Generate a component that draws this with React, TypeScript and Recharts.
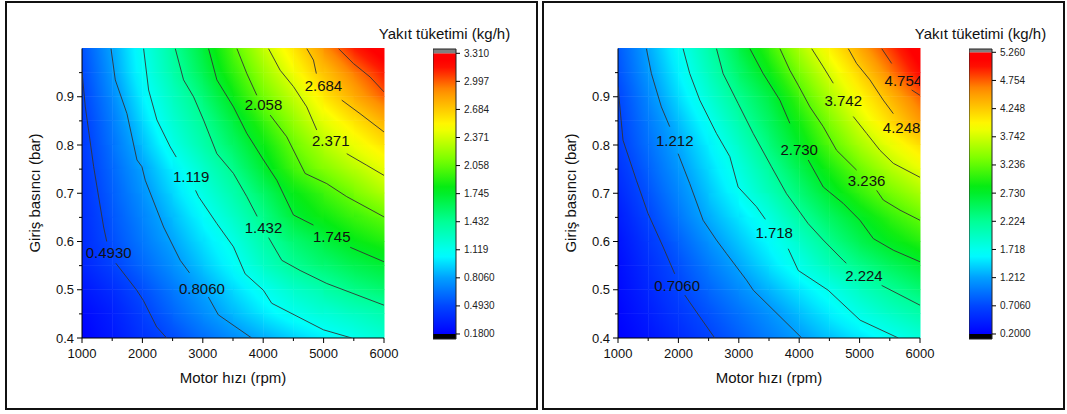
import React from "react";
import { ScatterChart, Scatter, XAxis, YAxis, ReferenceArea } from "recharts";

// grid nodes of the measured map
const rpmNodes = [1000, 1500, 2000, 2500, 3000, 3500, 4000, 4500, 5000, 5500, 6000];
const pressureNodes = [0.4, 0.45, 0.5, 0.55, 0.6, 0.65, 0.7, 0.75, 0.8, 0.85, 0.9, 0.95, 1.0];

const rpmTicks = [1000, 1500, 2000, 2500, 3000, 3500, 4000, 4500, 5000, 5500, 6000];
const pressureTicks = [0.4, 0.45, 0.5, 0.55, 0.6, 0.65, 0.7, 0.75, 0.8, 0.85, 0.9, 0.95];

// fuel consumption (kg/h), one row per pressure node (0.40 bar at the bottom)
const leftGrid = [
  [0.18, 0.29, 0.40, 0.51, 0.63, 0.74, 0.84, 0.93, 1.03, 1.12, 1.21],
  [0.22, 0.31, 0.46, 0.60, 0.74, 0.87, 1.00, 1.12, 1.20, 1.27, 1.35],
  [0.28, 0.38, 0.52, 0.67, 0.81, 0.96, 1.11, 1.24, 1.36, 1.48, 1.54],
  [0.34, 0.47, 0.61, 0.75, 0.91, 1.07, 1.26, 1.44, 1.54, 1.63, 1.72],
  [0.37, 0.52, 0.67, 0.82, 0.98, 1.14, 1.37, 1.53, 1.67, 1.81, 1.89],
  [0.38, 0.55, 0.71, 0.88, 1.06, 1.26, 1.46, 1.71, 1.84, 1.95, 2.06],
  [0.40, 0.58, 0.76, 0.95, 1.16, 1.35, 1.58, 1.80, 1.96, 2.12, 2.28],
  [0.42, 0.61, 0.81, 1.02, 1.24, 1.46, 1.72, 1.98, 2.15, 2.29, 2.43],
  [0.43, 0.65, 0.88, 1.14, 1.36, 1.58, 1.82, 2.08, 2.29, 2.45, 2.59],
  [0.45, 0.68, 0.96, 1.22, 1.43, 1.68, 1.95, 2.21, 2.43, 2.59, 2.78],
  [0.47, 0.73, 1.03, 1.28, 1.52, 1.81, 2.11, 2.32, 2.57, 2.80, 2.99],
  [0.49, 0.79, 1.09, 1.36, 1.63, 1.93, 2.21, 2.47, 2.72, 2.92, 3.15],
  [0.53, 0.82, 1.11, 1.41, 1.69, 2.02, 2.33, 2.58, 2.86, 3.15, 3.30],
];

const rightGrid = [
  [0.20, 0.33, 0.50, 0.67, 0.84, 1.02, 1.19, 1.35, 1.51, 1.67, 1.83],
  [0.23, 0.41, 0.59, 0.77, 0.95, 1.13, 1.33, 1.55, 1.76, 1.94, 2.12],
  [0.27, 0.47, 0.68, 0.89, 1.09, 1.30, 1.52, 1.73, 1.97, 2.22, 2.39],
  [0.29, 0.53, 0.76, 1.00, 1.24, 1.49, 1.75, 2.03, 2.29, 2.48, 2.68],
  [0.33, 0.60, 0.86, 1.13, 1.38, 1.62, 1.92, 2.27, 2.55, 2.80, 2.98],
  [0.40, 0.69, 0.98, 1.27, 1.51, 1.78, 2.17, 2.47, 2.75, 3.02, 3.27],
  [0.48, 0.78, 1.07, 1.37, 1.67, 2.02, 2.37, 2.71, 3.04, 3.32, 3.55],
  [0.56, 0.86, 1.16, 1.46, 1.79, 2.18, 2.55, 2.92, 3.28, 3.59, 3.85],
  [0.64, 0.94, 1.24, 1.56, 1.94, 2.35, 2.75, 3.18, 3.55, 3.86, 4.12],
  [0.67, 1.00, 1.34, 1.70, 2.11, 2.49, 2.90, 3.37, 3.78, 4.15, 4.52],
  [0.69, 1.08, 1.47, 1.86, 2.27, 2.59, 3.12, 3.58, 3.98, 4.36, 4.75],
  [0.77, 1.17, 1.57, 2.01, 2.43, 2.84, 3.35, 3.78, 4.19, 4.63, 5.09],
  [0.80, 1.24, 1.66, 2.11, 2.57, 3.06, 3.56, 4.00, 4.43, 4.89, 5.24],
];

// colour scale levels (bottom to top)
const leftLevels = ["0.1800", "0.4930", "0.8060", "1.119", "1.432", "1.745", "2.058", "2.371", "2.684", "2.997", "3.310"];
const rightLevels = ["0.2000", "0.7060", "1.212", "1.718", "2.224", "2.730", "3.236", "3.742", "4.248", "4.754", "5.260"];

// contour lines as [rpm, bar]; null marks the gap left for the label
const l0493 = [[1000, 0.952], [1055, 0.879], [1193, 0.755], [1358, 0.63], [1410, 0.6], null, [1560, 0.555], [1906, 0.499], [2015, 0.478], [2236, 0.423], [2402, 0.4]];
const l0806 = [[1480, 1.0], [1551, 0.935], [1744, 0.865], [1910, 0.769], [1992, 0.755], [2047, 0.727], [2351, 0.63], [2626, 0.561], [2780, 0.535], null, [3092, 0.485], [3257, 0.448], [3810, 0.4]];
const l1119 = [[2020, 1.0], [2103, 0.914], [2240, 0.852], [2461, 0.796], [2560, 0.775], null, [2880, 0.706], [2930, 0.693], [3233, 0.637], [3508, 0.589], [3701, 0.533], [4003, 0.499], [4141, 0.472], [4997, 0.417], [5466, 0.4]];
const l1432 = [[2544, 1.0], [2681, 0.935], [2847, 0.9], [3012, 0.852], [3233, 0.782], [3508, 0.741], [3729, 0.693], [3900, 0.652], null, [4090, 0.608], [4308, 0.561], [4611, 0.54], [5052, 0.513], [6000, 0.468]];
const l1745 = [[3095, 1.0], [3233, 0.935], [3508, 0.879], [3729, 0.824], [4005, 0.769], [4225, 0.727], [4501, 0.655], [4832, 0.634], null, [5440, 0.588], [6000, 0.558]];
const l2058 = [[3564, 1.0], [3729, 0.948], [3894, 0.903], null, [4115, 0.862], [4390, 0.817], [4694, 0.741], [5052, 0.72], [5383, 0.693], [6000, 0.651]];
const l2371 = [[4087, 1.0], [4280, 0.955], [4501, 0.921], [4721, 0.879], [4887, 0.831], null, [5383, 0.782], [5714, 0.758], [6000, 0.737]];
const l2684 = [[4721, 1.0], [4832, 0.976], [4880, 0.948], null, [5300, 0.893], [5603, 0.865], [6000, 0.827]];
const l2997 = [[5245, 1.0], [5493, 0.969], [5769, 0.941], [6000, 0.91]];

const r0706 = [[1000, 0.921], [1083, 0.81], [1304, 0.727], [1497, 0.658], [1746, 0.589], [1939, 0.533], null, [2105, 0.489], [2354, 0.444], [2602, 0.4]];
const r1212 = [[1470, 1.0], [1553, 0.948], [1718, 0.879], [1856, 0.838], null, [1995, 0.782], [2188, 0.72], [2409, 0.644], [2630, 0.603], [2796, 0.575], [3127, 0.52], [3240, 0.499], [4043, 0.4]];
const r1718 = [[2077, 1.0], [2188, 0.948], [2354, 0.893], [2630, 0.824], [2851, 0.776], [2989, 0.713], [3293, 0.672], [3440, 0.646], null, [3818, 0.585], [3984, 0.54], [4480, 0.499], [5008, 0.437], [5642, 0.4]];
const r2224 = [[2630, 1.0], [2740, 0.948], [2989, 0.886], [3238, 0.824], [3541, 0.755], [3790, 0.699], [4011, 0.661], [4149, 0.637], [4398, 0.603], [4729, 0.561], [4780, 0.555], null, [5365, 0.509], [6000, 0.468]];
const r2730 = [[3182, 1.0], [3403, 0.948], [3680, 0.893], [3845, 0.845], null, [4149, 0.769], [4398, 0.713], [4729, 0.679], [5006, 0.644], [5227, 0.606], [5558, 0.582], [6000, 0.558]];
const r3236 = [[3680, 1.0], [3845, 0.955], [3984, 0.924], [4177, 0.879], [4398, 0.838], [4619, 0.789], [4950, 0.748], null, [5282, 0.706], [5392, 0.686], [5669, 0.665], [6000, 0.644]];
const r3742 = [[4205, 1.0], [4398, 0.962], [4564, 0.928], null, [4895, 0.859], [5116, 0.824], [5337, 0.789], [5558, 0.762], [6000, 0.733]];
const r4248 = [[4812, 1.0], [4950, 0.969], [5171, 0.935], [5392, 0.893], [5558, 0.865]];
const r4754 = [[5365, 1.0], [5531, 0.969], null, [5862, 0.914], [6000, 0.903]];

const leftLines = [l0493, l0806, l1119, l1432, l1745, l2058, l2371, l2684, l2997];
const rightLines = [r0706, r1212, r1718, r2224, r2730, r3236, r3742, r4248, r4754];

// contour label positions [rpm, bar, text]
const leftLabels = [
  [1441, 0.578, "0.4930"], [2985, 0.502, "0.8060"], [2808, 0.735, "1.119"], [4005, 0.629, "1.432"],
  [5135, 0.61, "1.745"], [4005, 0.883, "2.058"], [5118, 0.809, "2.371"], [4997, 0.924, "2.684"],
];
const rightLabels = [
  [1978, 0.509, "0.7060"], [1939, 0.809, "1.212"], [3586, 0.619, "1.718"], [5072, 0.529, "2.224"],
  [4000, 0.791, "2.730"], [5116, 0.727, "3.236"], [4729, 0.891, "3.742"], [5696, 0.836, "4.248"],
  [5724, 0.933, "4.754"],
];

const FONT = "'Liberation Sans', Arial, sans-serif";

// rainbow palette of the plot
const palette = [
  [0, 0, 0, 255],
  [0.1, 0, 70, 255],
  [0.2, 0, 160, 255],
  [0.28, 0, 255, 255],
  [0.4, 0, 255, 150],
  [0.52, 0, 235, 20],
  [0.62, 120, 255, 0],
  [0.74, 255, 255, 0],
  [0.87, 255, 140, 0],
  [0.96, 255, 0, 0],
  [1, 255, 0, 0],
];

function colorAt(t: number) {
  const u = Math.max(0, Math.min(1, t));
  for (let i = 1; i < palette.length; i++) {
    const a = palette[i - 1];
    const b = palette[i];
    if (u <= b[0]) {
      const f = (u - a[0]) / (b[0] - a[0] || 1);
      const c = [1, 2, 3].map((k) => Math.round(a[k] + (b[k] - a[k]) * f));
      return `rgb(${c[0]},${c[1]},${c[2]})`;
    }
  }
  return "rgb(255,0,0)";
}

// one grid cell, shaded with a gradient that follows its four corner values
function cellShape(id: string, vlb: number, vrb: number, vlt: number, vrt: number, lo: number, hi: number) {
  return (props: any) => {
    const { x, y, width, height } = props;
    const gx = (vrb + vrt - vlb - vlt) / 2;
    const gy = (vlb + vrb - vlt - vrt) / 2;
    const mid = (vlb + vrb + vlt + vrt) / 4;
    const span = (Math.abs(gx) + Math.abs(gy)) / 2;
    const n2 = gx * gx + gy * gy;
    const col = (v: number) => colorAt((v - lo) / (hi - lo));
    if (n2 < 1e-9) {
      return <rect x={x} y={y - 0.5} width={width + 0.5} height={height + 0.5} fill={col(mid)} />;
    }
    const k = span / n2;
    return (
      <g>
        <defs>
          <linearGradient id={id} x1={0.5 - gx * k} y1={0.5 - gy * k} x2={0.5 + gx * k} y2={0.5 + gy * k}>
            {[0, 0.25, 0.5, 0.75, 1].map((t) => (
              <stop key={t} offset={t} stopColor={col(mid - span + 2 * span * t)} />
            ))}
          </linearGradient>
        </defs>
        <rect x={x} y={y - 0.5} width={width + 0.5} height={height + 0.5} fill={`url(#${id})`} />
      </g>
    );
  };
}

function toSegments(line: any[]) {
  const segs: { x: number; y: number }[][] = [[]];
  line.forEach((pt) => {
    if (pt === null) segs.push([]);
    else segs[segs.length - 1].push({ x: pt[0], y: pt[1] });
  });
  return segs.filter((s) => s.length > 1);
}

const NoDot = () => <g />;

const XTick = (props: any) => {
  const { x, y, payload } = props;
  const major = payload.value % 1000 === 0;
  return (
    <g>
      <line x1={x} x2={x} y1={y} y2={y + (major ? 5 : 3)} stroke="#000" strokeWidth={1} />
      {major && (
        <text x={x} y={y + 20} textAnchor="middle" fontSize={13} fontFamily={FONT} fill="#111">
          {payload.value}
        </text>
      )}
    </g>
  );
};

const YTick = (props: any) => {
  const { x, y, payload } = props;
  const v = Math.round(payload.value * 100);
  const major = v % 10 === 0;
  return (
    <g>
      <line x1={x - (major ? 5 : 3)} x2={x} y1={y} y2={y} stroke="#000" strokeWidth={1} />
      {major && (
        <text x={x - 8} y={y + 4.5} textAnchor="end" fontSize={13} fontFamily={FONT} fill="#111">
          {(v / 100).toFixed(1)}
        </text>
      )}
    </g>
  );
};

function ContourPlot({ id, grid, lines, labels, lo, hi }: any) {
  const cells: any[] = [];
  for (let i = 0; i < pressureNodes.length - 1; i++) {
    for (let j = 0; j < rpmNodes.length - 1; j++) {
      cells.push({
        key: `${id}-${i}-${j}`,
        x1: rpmNodes[j],
        x2: rpmNodes[j + 1],
        y1: pressureNodes[i],
        y2: pressureNodes[i + 1],
        shape: cellShape(`${id}-g-${i}-${j}`, grid[i][j], grid[i][j + 1], grid[i + 1][j], grid[i + 1][j + 1], lo, hi),
      });
    }
  }
  const segments = lines.flatMap((l: any[]) => toSegments(l));
  const labelData = labels.map((l: any[]) => ({ x: l[0], y: l[1], t: l[2] }));
  return (
    <ScatterChart width={372} height={338} margin={{ top: 8.5, right: 20, bottom: 0, left: 0 }}>
      <XAxis
        type="number"
        dataKey="x"
        domain={[1000, 6000]}
        ticks={rpmTicks}
        interval={0}
        height={40}
        tickSize={0}
        tickMargin={0}
        tickLine={false}
        axisLine={{ stroke: "#000", strokeWidth: 1 }}
        tick={<XTick />}
        allowDataOverflow
      />
      <YAxis
        type="number"
        dataKey="y"
        domain={[0.4, 1.0]}
        ticks={pressureTicks}
        interval={0}
        width={50}
        tickSize={0}
        tickMargin={0}
        tickLine={false}
        axisLine={{ stroke: "#000", strokeWidth: 1 }}
        tick={<YTick />}
        allowDataOverflow
      />
      {cells.map((c) => (
        <ReferenceArea
          key={c.key}
          x1={c.x1}
          x2={c.x2}
          y1={c.y1}
          y2={c.y2}
          ifOverflow="visible"
          fillOpacity={1}
          stroke="none"
          shape={c.shape}
        />
      ))}
      {segments.map((s: any, i: number) => (
        <Scatter
          key={`${id}-line-${i}`}
          data={s}
          line={{ stroke: "#333", strokeWidth: 0.9 }}
          lineJointType="linear"
          shape={NoDot}
          legendType="none"
          isAnimationActive={false}
        />
      ))}
      <Scatter
        data={labelData}
        isAnimationActive={false}
        legendType="none"
        shape={(p: any) => (
          <text x={p.cx} y={p.cy} dy="0.36em" textAnchor="middle" fontSize={15} fontFamily={FONT} fill="#111">
            {p.payload.t}
          </text>
        )}
      />
    </ScatterChart>
  );
}

const CbTick = (props: any) => {
  const { x, y, payload, labels } = props;
  const txt = labels.find((s: string) => Math.abs(parseFloat(s) - payload.value) < 1e-6);
  return (
    <g>
      <line x1={x} x2={x + 4} y1={y} y2={y} stroke="#000" strokeWidth={1} />
      <text x={x + 8} y={y + 3.5} fontSize={10} fontFamily={FONT} fill="#222">
        {txt}
      </text>
    </g>
  );
};

function ColorBar({ id, levels, domain }: any) {
  const lo = parseFloat(levels[0]);
  const hi = parseFloat(levels[levels.length - 1]);
  const ticks = levels.map((s: string) => parseFloat(s));
  const stops = Array.from({ length: 41 }, (_, i) => i / 40);
  const ends = [
    { x: 0, y: domain[0] },
    { x: 1, y: domain[1] },
  ];
  return (
    <ScatterChart width={83} height={310} margin={{ top: 10, right: 0, bottom: 10, left: 0 }}>
      <defs>
        <linearGradient id={id} x1="0" y1="1" x2="0" y2="0">
          {stops.map((t) => (
            <stop key={t} offset={t} stopColor={colorAt(t)} />
          ))}
        </linearGradient>
      </defs>
      <XAxis type="number" dataKey="x" domain={[0, 1]} hide />
      <YAxis
        type="number"
        dataKey="y"
        orientation="right"
        domain={domain}
        ticks={ticks}
        interval={0}
        width={60}
        tickSize={0}
        tickMargin={0}
        tickLine={false}
        axisLine={false}
        tick={<CbTick labels={levels} />}
        allowDataOverflow
      />
      <ReferenceArea y1={lo} y2={hi} fill={`url(#${id})`} fillOpacity={1} stroke="none" ifOverflow="visible" />
      <ReferenceArea y1={hi} y2={domain[1]} fill="#808080" fillOpacity={1} stroke="none" ifOverflow="visible" />
      <ReferenceArea y1={domain[0]} y2={lo} fill="#000" fillOpacity={1} stroke="none" ifOverflow="visible" />
      <ReferenceArea y1={domain[0]} y2={domain[1]} fill="none" stroke="#222" strokeWidth={1} ifOverflow="visible" />
      <Scatter data={ends} shape={NoDot} legendType="none" isAnimationActive={false} />
    </ScatterChart>
  );
}

function Panel({ box, plotLeft, cbLeft, id, grid, lines, labels, levels, cbDomain }: any) {
  const lo = parseFloat(levels[0]);
  const hi = parseFloat(levels[levels.length - 1]);
  const text: React.CSSProperties = { position: "absolute", fontFamily: FONT, fontSize: 15, color: "#111", whiteSpace: "nowrap" };
  return (
    <>
      <div
        style={{
          position: "absolute",
          left: box[0],
          top: box[1],
          width: box[2],
          height: box[3],
          boxSizing: "border-box",
          border: "2px solid #111",
        }}
      />
      <div style={{ position: "absolute", left: plotLeft - 50, top: 40 }}>
        <ContourPlot id={id} grid={grid} lines={lines} labels={labels} lo={lo} hi={hi} />
      </div>
      <div style={{ position: "absolute", left: cbLeft, top: 39 }}>
        <ColorBar id={`${id}-cb`} levels={levels} domain={cbDomain} />
      </div>
      <div style={{ ...text, left: cbLeft + 11.5, top: 25, transform: "translateX(-50%)" }}>Yakıt tüketimi (kg/h)</div>
      <div style={{ ...text, left: plotLeft + 151, top: 369, transform: "translateX(-50%)" }}>Motor hızı (rpm)</div>
      <div
        style={{
          ...text,
          left: plotLeft - 48,
          top: 193,
          transform: "translate(-50%, -50%) rotate(-90deg)",
        }}
      >
        Giriş basıncı (bar)
      </div>
    </>
  );
}

export default function App() {
  return (
    <div style={{ position: "absolute", left: 0, top: 0, width: 1067, height: 414, background: "#fff", overflow: "hidden" }}>
      <Panel
        box={[5, 1, 533, 409]}
        plotLeft={82}
        cbLeft={433}
        id="left"
        grid={leftGrid}
        lines={leftLines}
        labels={leftLabels}
        levels={leftLevels}
        cbDomain={[0.124, 3.358]}
      />
      <Panel
        box={[542, 1, 523, 409]}
        plotLeft={618}
        cbLeft={969}
        id="right"
        grid={rightGrid}
        lines={rightLines}
        labels={rightLabels}
        levels={rightLevels}
        cbDomain={[0.11, 5.319]}
      />
    </div>
  );
}
